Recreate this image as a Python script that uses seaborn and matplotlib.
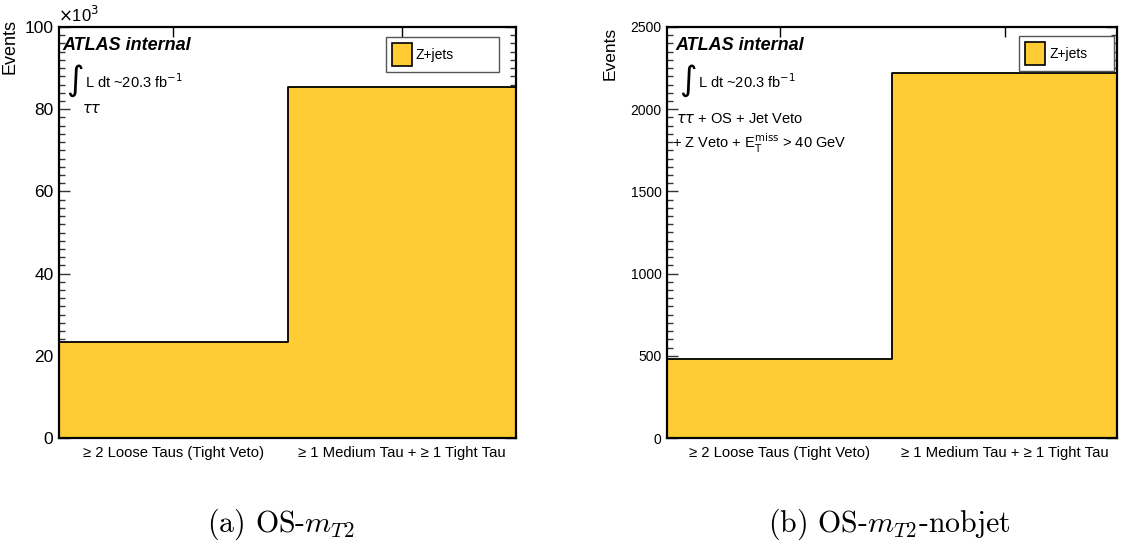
import numpy as np
import pandas as pd
import seaborn as sns
import matplotlib
matplotlib.use("Agg")
import matplotlib.pyplot as plt
from matplotlib.patches import Patch
from matplotlib.ticker import MultipleLocator, FuncFormatter

# ---- data -----------------------------------------------------------------
categories = ["\u2265 2 Loose Taus (Tight Veto)", "\u2265 1 Medium Tau + \u2265 1 Tight Tau"]
bin_edges = [0, 1, 2]
bin_centres = [0.5, 1.5]
zjets_os_mt2 = [23300, 85500]
zjets_os_mt2_nobjet = [478, 2220]
sample_name = "Z+jets"
captions = [r"(a) OS-$m_{T2}$", r"(b) OS-$m_{T2}$-nobjet"]

sns.set_theme(style="white")
plt.rcParams["font.family"] = ["Liberation Sans", "DejaVu Sans"]
plt.rcParams["mathtext.fontset"] = "dejavusans"
for key in ["text.color", "axes.labelcolor", "xtick.labelcolor", "ytick.labelcolor"]:
    plt.rcParams[key] = "black"

FILL = "#FFCC33"

fig = plt.figure(figsize=(11.27, 5.47), dpi=100)
ax_a = fig.add_axes([59 / 1127, 109 / 547, 457 / 1127, 411 / 547])
ax_b = fig.add_axes([667 / 1127, 109 / 547, 450 / 1127, 411 / 547])


def draw_panel(ax, values, ymax, major, minor, tick_fs):
    df = pd.DataFrame({"bin": bin_centres, "events": values})
    sns.histplot(data=df, x="bin", weights="events", bins=bin_edges,
                 element="step", fill=True, color=FILL, alpha=1.0,
                 edgecolor="black", linewidth=1.3, ax=ax)
    ax.set_xlim(0, 2)
    ax.set_ylim(0, ymax)
    ax.set_xlabel("")
    ax.set_xticks(bin_centres)
    ax.set_xticklabels(categories, fontsize=10.7)
    ax.yaxis.set_major_locator(MultipleLocator(major))
    ax.yaxis.set_minor_locator(MultipleLocator(minor))
    ax.tick_params(axis="y", which="major", direction="in", length=8,
                   width=1.0, left=True, right=True, labelsize=tick_fs, pad=4,
                   color="#333333")
    ax.tick_params(axis="y", which="minor", direction="in", length=4.5,
                   width=1.0, left=True, right=True, color="#333333")
    ax.tick_params(axis="x", which="major", direction="in", length=7,
                   width=1.0, top=True, bottom=True, pad=6, color="black")
    ax.tick_params(axis="x", which="minor", bottom=False, top=False)
    for s in ax.spines.values():
        s.set_visible(True)
        s.set_color("black")
        s.set_linewidth(1.6)
    ax.set_facecolor("white")
    return Patch(facecolor=FILL, edgecolor="black", linewidth=1.2)


h_a = draw_panel(ax_a, zjets_os_mt2, 100000, 20000, 2000, 12.5)
ax_a.yaxis.set_major_formatter(FuncFormatter(lambda v, p: f"{v / 1000:g}"))
ax_a.set_ylabel("Events", fontsize=13, loc="top")
ax_a.yaxis.set_label_coords(-0.088, 1.02)
ax_a.text(-0.002, 1.005, r"$\times$10$^{3}$", transform=ax_a.transAxes,
          fontsize=12, ha="left", va="bottom")

h_b = draw_panel(ax_b, zjets_os_mt2_nobjet, 2500, 500, 50, 10)
ax_b.set_ylabel("Events", fontsize=12.5, loc="top")
ax_b.yaxis.set_label_coords(-0.11, 1.0)

# legends
legend_kw = dict(loc="upper left", mode="expand", fontsize=10, frameon=True,
                 fancybox=False, edgecolor="#555555", framealpha=1,
                 handlelength=1.45, handleheight=2.2, handletextpad=0.3,
                 borderpad=0.42, borderaxespad=0.0)
ax_a.legend([h_a], [sample_name], bbox_to_anchor=(0.715, 0.976, 0.248, 0.0),
            **legend_kw)
ax_b.legend([h_b], [sample_name], bbox_to_anchor=(0.782, 0.978, 0.211, 0.0),
            **legend_kw)

# labels inside the frames
for ax, x0, lines in [
    (ax_a, 0.007, [(0.05, 0.80, r"$\tau\tau$")]),
    (ax_b, 0.018, [(0.020, 0.776, r"$\tau\tau$ + OS + Jet Veto"),
                   (0.011, 0.718, r"+ Z Veto + E$_{\mathrm{T}}^{\mathrm{miss}}$ > 40 GeV")]),
]:
    ax.text(x0, 0.956, "ATLAS internal", transform=ax.transAxes, fontsize=13,
            fontweight="bold", fontstyle="italic", ha="left", va="center")
    ax.text(x0 + 0.008, 0.868, r"$\int$", transform=ax.transAxes, fontsize=17,
            ha="left", va="center")
    ax.text(x0 + 0.050, 0.868, r"L dt ~20.3 fb$^{-1}$", transform=ax.transAxes,
            fontsize=10.5, ha="left", va="center")
    for tx, ty, s in lines:
        ax.text(tx, ty, s, transform=ax.transAxes, fontsize=10.5,
                ha="left", va="center")

# sub-figure captions
fig.text(281 / 1127, 1 - 524 / 547, captions[0], fontsize=21.5,
         family="cmr10", math_fontfamily="cm", ha="center", va="center")
fig.text(889 / 1127, 1 - 524 / 547, captions[1], fontsize=21.5,
         family="cmr10", math_fontfamily="cm", ha="center", va="center")

fig.savefig("out.png", dpi=100)
